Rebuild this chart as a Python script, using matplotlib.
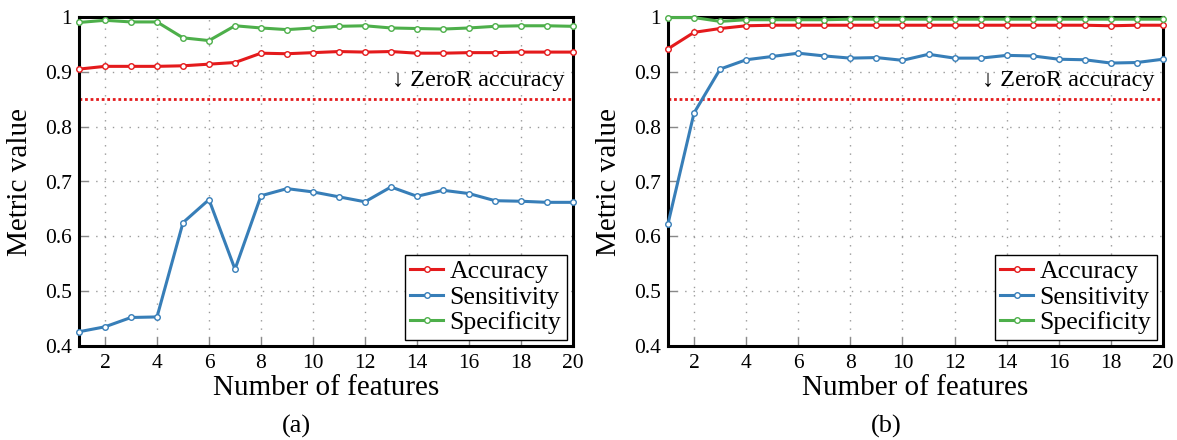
import matplotlib
matplotlib.use("Agg")
import matplotlib.pyplot as plt
import numpy as np

plt.rcParams['font.family'] = ['Liberation Serif', 'DejaVu Serif']
plt.rcParams['mathtext.fontset'] = 'stix'

n_features = list(range(1, 21))

# Panel (a)
acc_a = [0.905, 0.910, 0.910, 0.910, 0.911, 0.914, 0.917, 0.934, 0.933, 0.935,
         0.937, 0.936, 0.937, 0.934, 0.934, 0.935, 0.935, 0.936, 0.936, 0.936]
sens_a = [0.426, 0.435, 0.452, 0.453, 0.625, 0.667, 0.540, 0.674, 0.687, 0.681,
          0.672, 0.663, 0.690, 0.673, 0.684, 0.678, 0.665, 0.664, 0.662, 0.662]
spec_a = [0.990, 0.994, 0.991, 0.991, 0.962, 0.957, 0.984, 0.980, 0.977, 0.980,
          0.983, 0.984, 0.980, 0.979, 0.978, 0.980, 0.983, 0.984, 0.984, 0.983]

# Panel (b)
acc_b = [0.942, 0.972, 0.979, 0.984, 0.985, 0.985, 0.985, 0.985, 0.985, 0.985,
         0.985, 0.985, 0.985, 0.985, 0.985, 0.985, 0.985, 0.984, 0.985, 0.985]
sens_b = [0.623, 0.825, 0.905, 0.922, 0.928, 0.934, 0.929, 0.925, 0.926, 0.921,
          0.932, 0.925, 0.925, 0.930, 0.929, 0.923, 0.922, 0.916, 0.917, 0.923]
spec_b = [0.999, 0.999, 0.992, 0.995, 0.995, 0.995, 0.995, 0.996, 0.996, 0.996,
          0.996, 0.996, 0.996, 0.996, 0.996, 0.996, 0.996, 0.996, 0.996, 0.996]

zeror = 0.85
series_names = ["Accuracy", "Sensitivity", "Specificity"]
colors = ["#e41a1c", "#377eb8", "#4daf4a"]
xticks = list(range(2, 21, 2))
yticks = [0.4, 0.5, 0.6, 0.7, 0.8, 0.9, 1.0]
ytick_labels = ["0.4", "0.5", "0.6", "0.7", "0.8", "0.9", "1"]
panel_labels = ["(a)", "(b)"]

W, H = 1177, 440
fig = plt.figure(figsize=(W / 100, H / 100), dpi=100)

def px_axes(x0, x1, y0, y1):
    return fig.add_axes([x0 / W, 1 - y1 / H, (x1 - x0) / W, (y1 - y0) / H])

axes = [px_axes(79, 573, 17, 346), px_axes(668, 1163, 17, 346)]
data = [(acc_a, sens_a, spec_a), (acc_b, sens_b, spec_b)]

for ax, series, plabel in zip(axes, data, panel_labels):
    ax.set_xlim(1, 20)
    ax.set_ylim(0.4, 1.0)
    ax.set_xticks(xticks)
    ax.set_yticks(yticks)
    ax.set_yticklabels(ytick_labels)
    ax.grid(True, color="#999999", linestyle=(0, (1, 5)), linewidth=1.0)
    ax.set_axisbelow(True)
    ax.tick_params(direction="in", length=6.5, width=1.0, color="#888888",
                   labelsize=15.5)
    ax.tick_params(axis="x", pad=6)
    ax.tick_params(axis="y", pad=5)
    for s in ax.spines.values():
        s.set_linewidth(2.2)
        s.set_color("black")
        s.set_zorder(2.5)
    ax.axhline(zeror, color="#e41a1c", linestyle=(0, (1, 1)), linewidth=2.0,
               zorder=2)
    for name, vals, c in zip(series_names, series, colors):
        ax.plot(n_features, vals, color=c, linewidth=2.2, marker="o",
                markersize=4, markerfacecolor="white", markeredgecolor=c,
                markeredgewidth=1.0, label=name, clip_on=False, zorder=3)
    ax.annotate("\u2193 ZeroR accuracy", xy=(1, 0.874),
                xycoords=("axes fraction", "data"),
                xytext=(-6, 0), textcoords="offset points",
                ha="right", va="baseline", fontsize=17.5)
    ax.set_xlabel("Number of features", fontsize=21, labelpad=1)
    ax.set_ylabel("Metric value", fontsize=21, labelpad=9)
    leg = ax.legend(loc="lower right", fontsize=18.5, frameon=True,
                    fancybox=False, edgecolor="black", framealpha=1,
                    borderaxespad=0.25, labelspacing=0.1, handlelength=1.3,
                    handletextpad=0.25, borderpad=0.2)
    leg.get_frame().set_linewidth(1.0)

fig.text(296 / W, 1 - 426 / H, panel_labels[0], ha="center", va="center",
         fontsize=19)
fig.text(886 / W, 1 - 426 / H, panel_labels[1], ha="center", va="center",
         fontsize=19)

fig.savefig("out.png", dpi=100)
